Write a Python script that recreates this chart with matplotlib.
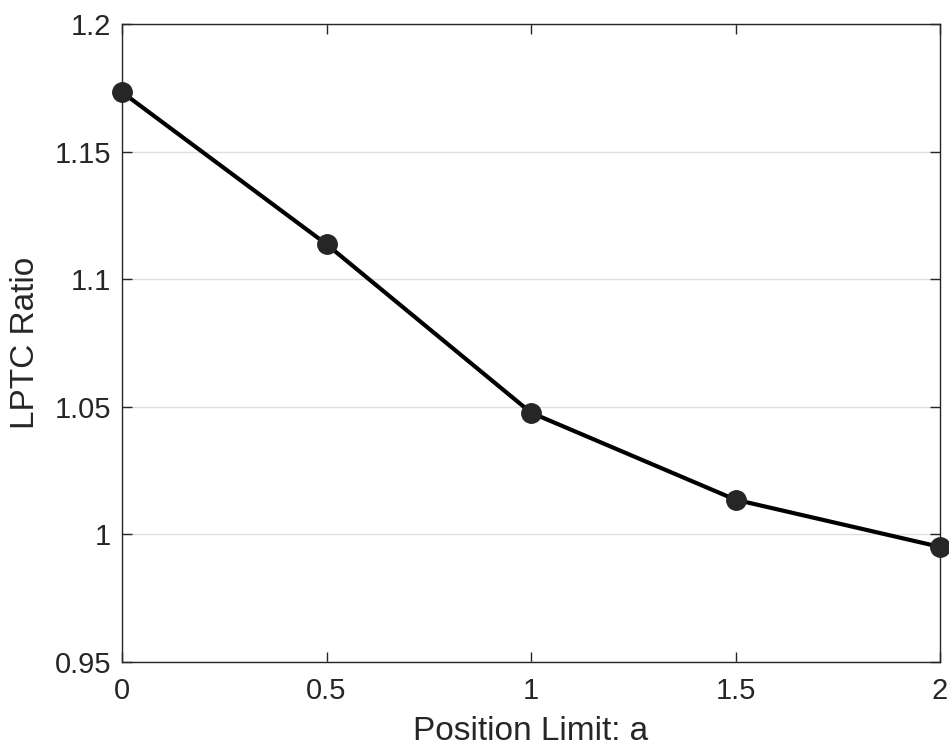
import numpy as np
import matplotlib.pyplot as plt

plt.rcParams['font.family'] = ['Liberation Sans', 'DejaVu Sans']

# data
position_limit = [0, 0.5, 1, 1.5, 2]
lptc_ratio = [1.1733, 1.1137, 1.0477, 1.0136, 0.9951]
yticks = [0.95, 1, 1.05, 1.1, 1.15, 1.2]
ytick_labels = ['0.95', '1', '1.05', '1.1', '1.15', '1.2']
xticks = [0, 0.5, 1, 1.5, 2]
xtick_labels = ['0', '0.5', '1', '1.5', '2']

fig = plt.figure(figsize=(9.49, 7.5), dpi=100)
ax = fig.add_axes([122/949, 1 - 662/750, (940 - 122)/949, (662 - 24)/750])

dark = '#262626'
ax.plot(position_limit, lptc_ratio, color='black', lw=3,
        marker='o', ms=14, mfc=dark, mec=dark, clip_on=False, zorder=5)

ax.set_xlim(0, 2)
ax.set_ylim(0.95, 1.2)
ax.set_xticks(xticks)
ax.set_xticklabels(xtick_labels)
ax.set_yticks(yticks)
ax.set_yticklabels(ytick_labels)
ax.yaxis.grid(True, color='#dfdfdf', lw=1)
ax.set_axisbelow(True)

ax.tick_params(direction='in', length=7, width=1, colors=dark,
               labelsize=21, top=True, right=True)
ax.tick_params(axis='x', pad=11)
ax.tick_params(axis='y', pad=8)
for s in ax.spines.values():
    s.set_color(dark)
    s.set_linewidth(1)

ax.set_xlabel('Position Limit: a', fontsize=24, color=dark, labelpad=8)
ax.set_ylabel('LPTC Ratio', fontsize=24, color=dark, labelpad=10)

fig.savefig('out.png', dpi=100)
